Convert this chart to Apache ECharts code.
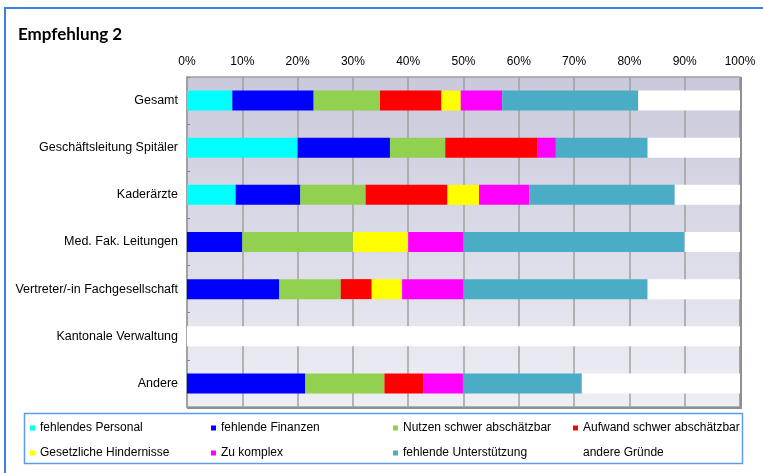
<!DOCTYPE html>
<html>
<head>
<meta charset="utf-8">
<script src="https://cdn.jsdelivr.net/npm/echarts@6/dist/echarts.min.js"></script>
<style>html,body{margin:0;padding:0;background:#fff;}#c{width:763px;height:473px;}</style>
</head>
<body>
<div id="c"></div>
<script>
var categories = ['Gesamt', 'Geschäftsleitung Spitäler', 'Kaderärzte', 'Med. Fak. Leitungen', 'Vertreter/-in Fachgesellschaft', 'Kantonale Verwaltung', 'Andere'];
var seriesNames = ['fehlendes Personal', 'fehlende Finanzen', 'Nutzen schwer abschätzbar', 'Aufwand schwer abschätzbar', 'Gesetzliche Hindernisse', 'Zu komplex', 'fehlende Unterstützung', 'andere Gründe'];
var personal      = [8.2, 20.0, 8.8, 0, 0, 0, 0];
var finanzen      = [14.7, 16.7, 11.7, 10.0, 16.7, 0, 21.4];
var nutzen        = [12.0, 10.0, 11.8, 20.0, 11.1, 0, 14.3];
var aufwand       = [11.1, 16.7, 14.8, 0, 5.6, 0, 7.1];
var gesetzlich    = [3.5, 0, 5.7, 10.0, 5.5, 0, 0];
var komplex       = [7.5, 3.3, 9.1, 10.0, 11.1, 0, 7.1];
var unterstuetzung= [24.6, 16.6, 26.3, 40.0, 33.3, 0, 21.5];
var andere        = [18.4, 16.7, 11.8, 10.0, 16.7, 100, 28.6];
var xTicks = [0, 10, 20, 30, 40, 50, 60, 70, 80, 90, 100];

var values = [personal, finanzen, nutzen, aufwand, gesetzlich, komplex, unterstuetzung, andere];
var colors = ['#00ffff', '#0000ff', '#92d050', '#ff0000', '#ffff00', '#ff00ff', '#4bacc6', '#ffffff'];

var series = seriesNames.map(function (n, i) {
  return {
    name: n, type: 'bar', stack: 'all', barWidth: 20,
    itemStyle: { color: colors[i] },
    data: values[i]
  };
});

var legendCols = [[0, 4], [1, 5], [2, 6], [3, 7]];
var legendLefts = [30, 211, 393, 573];
var legends = legendCols.map(function (col, k) {
  return {
    orient: 'vertical', left: legendLefts[k], top: 421, padding: 0,
    itemWidth: 5, itemHeight: 5, itemGap: 11, icon: 'rect', selectedMode: false,
    textStyle: { fontFamily: 'Liberation Sans', fontSize: 12, color: '#000', lineHeight: 14 },
    data: col.map(function (i) { return seriesNames[i]; })
  };
});

var chart = echarts.init(document.getElementById('c'), null, { renderer: 'canvas' });
chart.setOption({
  animation: false,
  backgroundColor: '#fff',
  title: {
    text: 'Empfehlung 2', left: 18, top: 26, padding: 0,
    textStyle: { fontFamily: 'Lato', fontWeight: 'bold', fontSize: 17, color: '#000' }
  },
  graphic: [
    { type: 'polyline', shape: { points: [[5, 473], [5, 8], [763, 8]] }, style: { stroke: '#3b7fe8', lineWidth: 2, fill: null } },
    { type: 'rect', shape: { x: 24.5, y: 413.5, width: 718, height: 50 }, style: { stroke: '#5b9bf0', lineWidth: 1.5, fill: null } },
    { type: 'polyline', shape: { points: [[741, 77], [741, 408], [187, 408]] }, style: { stroke: '#909090', lineWidth: 2, fill: null }, z: 100 }
  ],
  legend: legends,
  grid: {
    left: 187, right: 23, top: 77, bottom: 66, show: true,
    borderColor: '#a0a0a0', borderWidth: 1.5,
    backgroundColor: new echarts.graphic.LinearGradient(0, 0, 0, 1, [
      { offset: 0, color: '#c9c9db' }, { offset: 1, color: '#eeeef5' }
    ])
  },
  xAxis: {
    type: 'value', position: 'top', min: 0, max: 100, interval: 10,
    axisLine: { show: false }, axisTick: { show: false },
    splitLine: { show: true, lineStyle: { color: '#a0a0a0', width: 1.5 } },
    axisLabel: {
      margin: 9, fontFamily: 'Liberation Sans', fontSize: 12, color: '#000',
      formatter: function (v) { return xTicks.indexOf(v) >= 0 ? v + '%' : ''; }
    }
  },
  yAxis: {
    type: 'category', inverse: true, data: categories,
    axisLine: { show: true, lineStyle: { color: '#a0a0a0', width: 1.5 } },
    axisTick: { show: true, inside: true, length: 3, lineStyle: { color: '#888' } },
    axisLabel: { margin: 9, fontFamily: 'Liberation Sans', fontSize: 12.5, color: '#000' }
  },
  series: series
});
</script>
</body>
</html>
